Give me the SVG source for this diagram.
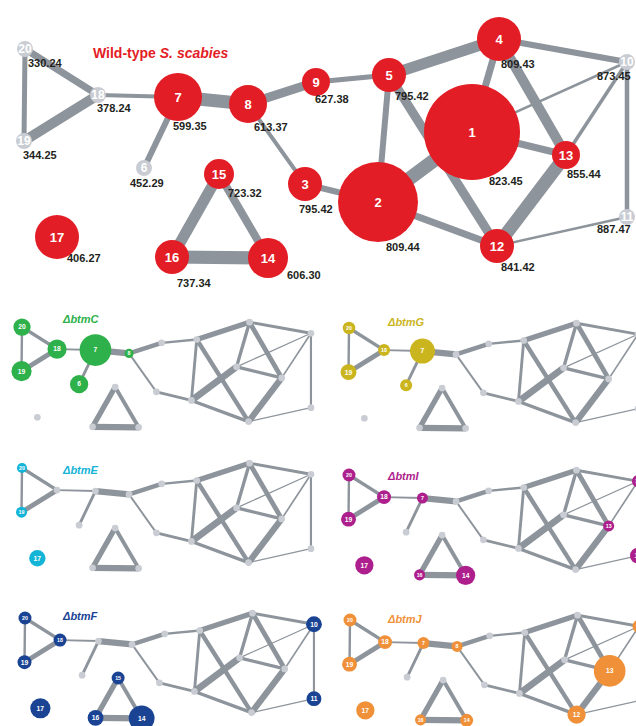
<svg xmlns="http://www.w3.org/2000/svg" xmlns:xlink="http://www.w3.org/1999/xlink" width="636" height="726" viewBox="0 0 636 726">
<style>
.e{stroke:#8d949b;fill:none}
.g{fill:#c9cdd3}
.r{fill:#e31d25}
.cC{fill:#2eb14a}.cG{fill:#cbb51e}.cE{fill:#14b4d7}.cI{fill:#ad1f8d}.cF{fill:#1a4394}.cJ{fill:#f0913a}
text{font-family:"Liberation Sans",Arial,sans-serif;font-weight:bold}
.l{fill:#fff;text-anchor:middle;font-size:13px}
.lg{fill:#fff;text-anchor:middle;font-size:12px}
.s{fill:#fff;text-anchor:middle;font-size:14px}
.ss{fill:#fff;text-anchor:middle;font-size:11px}
.v{fill:#231f20;font-size:11px}
.t{font-size:11px;font-style:italic}
</style>
<rect width="636" height="726" fill="#fff"/>
<g id="connectors">
<line class="e" x1="25" y1="49" x2="98" y2="95" stroke-width="7"/>
<line class="e" x1="25" y1="49" x2="24" y2="141" stroke-width="5"/>
<line class="e" x1="24" y1="141" x2="98" y2="95" stroke-width="10"/>
<line class="e" x1="98" y1="95" x2="178" y2="97" stroke-width="4"/>
<line class="e" x1="178" y1="97" x2="144" y2="168" stroke-width="6"/>
<line class="e" x1="178" y1="97" x2="248" y2="104" stroke-width="13"/>
<line class="e" x1="248" y1="104" x2="316" y2="82" stroke-width="9"/>
<line class="e" x1="248" y1="104" x2="305" y2="184" stroke-width="4"/>
<line class="e" x1="316" y1="82" x2="389" y2="75" stroke-width="5"/>
<line class="e" x1="305" y1="184" x2="378" y2="202" stroke-width="6"/>
<line class="e" x1="389" y1="75" x2="499" y2="39" stroke-width="11"/>
<line class="e" x1="389" y1="75" x2="378" y2="202" stroke-width="6"/>
<line class="e" x1="389" y1="75" x2="497" y2="246" stroke-width="9"/>
<line class="e" x1="499" y1="39" x2="627" y2="62" stroke-width="6"/>
<line class="e" x1="499" y1="39" x2="472" y2="132" stroke-width="7"/>
<line class="e" x1="499" y1="39" x2="566" y2="155" stroke-width="10"/>
<line class="e" x1="472" y1="132" x2="627" y2="62" stroke-width="2.5"/>
<line class="e" x1="472" y1="132" x2="566" y2="155" stroke-width="7"/>
<line class="e" x1="472" y1="132" x2="378" y2="202" stroke-width="14"/>
<line class="e" x1="566" y1="155" x2="627" y2="62" stroke-width="3.5"/>
<line class="e" x1="566" y1="155" x2="497" y2="246" stroke-width="13"/>
<line class="e" x1="378" y1="202" x2="497" y2="246" stroke-width="7"/>
<line class="e" x1="497" y1="246" x2="627" y2="217" stroke-width="2.5"/>
<line class="e" x1="627" y1="62" x2="627" y2="217" stroke-width="4.5"/>
<line class="e" x1="219" y1="174" x2="172" y2="257" stroke-width="11"/>
<line class="e" x1="219" y1="174" x2="268" y2="258" stroke-width="8"/>
<line class="e" x1="172" y1="257" x2="268" y2="258" stroke-width="13"/>
</g>
<g id="wildtype">
<text x="93" y="58" font-size="14" fill="#e31d25">Wild-type <tspan font-style="italic">S. scabies</tspan></text>
<g id="n1"><circle class="r" cx="472" cy="132" r="48"/><text class="l" x="472" y="132" dy="0.35em">1</text><text class="v" x="489" y="185">823.45</text></g>
<g id="n2"><circle class="r" cx="378" cy="202" r="40"/><text class="l" x="378" y="202" dy="0.35em">2</text><text class="v" x="386" y="251">809.44</text></g>
<g id="n3"><circle class="r" cx="305" cy="184" r="17"/><text class="l" x="305" y="184" dy="0.35em">3</text><text class="v" x="299" y="213">795.42</text></g>
<g id="n4"><circle class="r" cx="499" cy="39" r="22"/><text class="l" x="499" y="39" dy="0.35em">4</text><text class="v" x="501" y="68">809.43</text></g>
<g id="n5"><circle class="r" cx="389" cy="75" r="17"/><text class="l" x="389" y="75" dy="0.35em">5</text><text class="v" x="395" y="100">795.42</text></g>
<g id="n6"><circle class="g" cx="144" cy="168" r="8"/><text class="lg" x="144" y="168" dy="0.35em">6</text><text class="v" x="130" y="187">452.29</text></g>
<g id="n7"><circle class="r" cx="178" cy="97" r="24"/><text class="l" x="178" y="97" dy="0.35em">7</text><text class="v" x="173" y="130">599.35</text></g>
<g id="n8"><circle class="r" cx="248" cy="104" r="19"/><text class="l" x="248" y="104" dy="0.35em">8</text><text class="v" x="254" y="131">613.37</text></g>
<g id="n9"><circle class="r" cx="316" cy="82" r="14"/><text class="l" x="316" y="82" dy="0.35em">9</text><text class="v" x="315" y="103">627.38</text></g>
<g id="n10"><circle class="g" cx="627" cy="62" r="8"/><text class="lg" x="627" y="62" dy="0.35em">10</text><text class="v" x="597" y="80">873.45</text></g>
<g id="n11"><circle class="g" cx="627" cy="217" r="8"/><text class="lg" x="627" y="217" dy="0.35em">11</text><text class="v" x="597" y="233">887.47</text></g>
<g id="n12"><circle class="r" cx="497" cy="246" r="17"/><text class="l" x="497" y="246" dy="0.35em">12</text><text class="v" x="501" y="271">841.42</text></g>
<g id="n13"><circle class="r" cx="566" cy="155" r="14"/><text class="l" x="566" y="155" dy="0.35em">13</text><text class="v" x="567" y="178">855.44</text></g>
<g id="n14"><circle class="r" cx="268" cy="258" r="20"/><text class="l" x="268" y="258" dy="0.35em">14</text><text class="v" x="287" y="279">606.30</text></g>
<g id="n15"><circle class="r" cx="219" cy="174" r="15"/><text class="l" x="219" y="174" dy="0.35em">15</text><text class="v" x="228" y="197">723.32</text></g>
<g id="n16"><circle class="r" cx="172" cy="257" r="17"/><text class="l" x="172" y="257" dy="0.35em">16</text><text class="v" x="177" y="287">737.34</text></g>
<g id="n17"><circle class="r" cx="57" cy="237" r="22"/><text class="l" x="57" y="237" dy="0.35em">17</text><text class="v" x="67" y="262">406.27</text></g>
<g id="n18"><circle class="g" cx="98" cy="95" r="8"/><text class="lg" x="98" y="95" dy="0.35em">18</text><text class="v" x="97" y="112">378.24</text></g>
<g id="n19"><circle class="g" cx="24" cy="141" r="8"/><text class="lg" x="24" y="141" dy="0.35em">19</text><text class="v" x="23" y="159">344.25</text></g>
<g id="n20"><circle class="g" cx="25" cy="49" r="8"/><text class="lg" x="25" y="49" dy="0.35em">20</text><text class="v" x="28" y="67">330.24</text></g>
</g>

<!-- btmC -->
<text class="t" x="63" y="323" fill="#2eb14a">ΔbtmC</text>
<g id="panelC" transform="translate(10,303.5) scale(0.48)">
<use href="#connectors"/>
<g id="C1"><circle class="g" cx="472" cy="132" r="7"/></g>
<g id="C2"><circle class="g" cx="378" cy="202" r="7"/></g>
<g id="C3"><circle class="g" cx="305" cy="184" r="7"/></g>
<g id="C4"><circle class="g" cx="499" cy="39" r="7"/></g>
<g id="C5"><circle class="g" cx="389" cy="75" r="7"/></g>
<g id="C9"><circle class="g" cx="316" cy="82" r="7"/></g>
<g id="C10"><circle class="g" cx="627" cy="62" r="7"/></g>
<g id="C11"><circle class="g" cx="627" cy="217" r="7"/></g>
<g id="C12"><circle class="g" cx="497" cy="246" r="7"/></g>
<g id="C13"><circle class="g" cx="566" cy="155" r="7"/></g>
<g id="C14"><circle class="g" cx="268" cy="258" r="7"/></g>
<g id="C15"><circle class="g" cx="219" cy="174" r="7"/></g>
<g id="C16"><circle class="g" cx="172" cy="257" r="7"/></g>
<g id="C17"><circle class="g" cx="57" cy="237" r="7"/></g>
<g id="C6"><circle class="cC" cx="144" cy="168" r="19"/><text class="s" x="144" y="168" dy="0.35em">6</text></g>
<g id="C7"><circle class="cC" cx="178" cy="97" r="33"/><text class="s" x="178" y="97" dy="0.35em">7</text></g>
<g id="C8"><circle class="cC" cx="248" cy="104" r="9.5"/><text class="ss" x="248" y="104" dy="0.35em">8</text></g>
<g id="C18"><circle class="cC" cx="98" cy="95" r="20"/><text class="s" x="98" y="95" dy="0.35em">18</text></g>
<g id="C19"><circle class="cC" cx="24" cy="141" r="21"/><text class="s" x="24" y="141" dy="0.35em">19</text></g>
<g id="C20"><circle class="cC" cx="25" cy="49" r="18"/><text class="s" x="25" y="49" dy="0.35em">20</text></g>
</g>

<!-- btmG -->
<text class="t" x="388" y="326" fill="#cbb51e">ΔbtmG</text>
<g id="panelG" transform="translate(337,304.5) scale(0.48)">
<use href="#connectors"/>
<g id="G1"><circle class="g" cx="472" cy="132" r="7"/></g>
<g id="G2"><circle class="g" cx="378" cy="202" r="7"/></g>
<g id="G3"><circle class="g" cx="305" cy="184" r="7"/></g>
<g id="G4"><circle class="g" cx="499" cy="39" r="7"/></g>
<g id="G5"><circle class="g" cx="389" cy="75" r="7"/></g>
<g id="G8"><circle class="g" cx="248" cy="104" r="7"/></g>
<g id="G9"><circle class="g" cx="316" cy="82" r="7"/></g>
<g id="G10"><circle class="g" cx="627" cy="62" r="7"/></g>
<g id="G11"><circle class="g" cx="627" cy="217" r="7"/></g>
<g id="G12"><circle class="g" cx="497" cy="246" r="7"/></g>
<g id="G13"><circle class="g" cx="566" cy="155" r="7"/></g>
<g id="G14"><circle class="g" cx="268" cy="258" r="7"/></g>
<g id="G15"><circle class="g" cx="219" cy="174" r="7"/></g>
<g id="G16"><circle class="g" cx="172" cy="257" r="7"/></g>
<g id="G17"><circle class="g" cx="57" cy="237" r="7"/></g>
<g id="G6"><circle class="cG" cx="144" cy="168" r="12.5"/><text class="ss" x="144" y="168" dy="0.35em">6</text></g>
<g id="G7"><circle class="cG" cx="178" cy="97" r="26"/><text class="s" x="178" y="97" dy="0.35em">7</text></g>
<g id="G18"><circle class="cG" cx="98" cy="95" r="12.5"/><text class="ss" x="98" y="95" dy="0.35em">18</text></g>
<g id="G19"><circle class="cG" cx="24" cy="141" r="16.5"/><text class="s" x="24" y="141" dy="0.35em">19</text></g>
<g id="G20"><circle class="cG" cx="25" cy="49" r="13"/><text class="ss" x="25" y="49" dy="0.35em">20</text></g>
</g>

<!-- btmE -->
<text class="t" x="63" y="474" fill="#14b4d7">ΔbtmE</text>
<g id="panelE" transform="translate(10,444.5) scale(0.48)">
<use href="#connectors"/>
<g id="E1"><circle class="g" cx="472" cy="132" r="7"/></g>
<g id="E2"><circle class="g" cx="378" cy="202" r="7"/></g>
<g id="E3"><circle class="g" cx="305" cy="184" r="7"/></g>
<g id="E4"><circle class="g" cx="499" cy="39" r="7"/></g>
<g id="E5"><circle class="g" cx="389" cy="75" r="7"/></g>
<g id="E6"><circle class="g" cx="144" cy="168" r="7"/></g>
<g id="E7"><circle class="g" cx="178" cy="97" r="7"/></g>
<g id="E8"><circle class="g" cx="248" cy="104" r="7"/></g>
<g id="E9"><circle class="g" cx="316" cy="82" r="7"/></g>
<g id="E10"><circle class="g" cx="627" cy="62" r="7"/></g>
<g id="E11"><circle class="g" cx="627" cy="217" r="7"/></g>
<g id="E12"><circle class="g" cx="497" cy="246" r="7"/></g>
<g id="E13"><circle class="g" cx="566" cy="155" r="7"/></g>
<g id="E14"><circle class="g" cx="268" cy="258" r="7"/></g>
<g id="E15"><circle class="g" cx="219" cy="174" r="7"/></g>
<g id="E16"><circle class="g" cx="172" cy="257" r="7"/></g>
<g id="E18"><circle class="g" cx="98" cy="95" r="7"/></g>
<g id="E17"><circle class="cE" cx="57" cy="237" r="17"/><text class="s" x="57" y="237" dy="0.35em">17</text></g>
<g id="E19"><circle class="cE" cx="24" cy="141" r="11.5"/><text class="ss" x="24" y="141" dy="0.35em">19</text></g>
<g id="E20"><circle class="cE" cx="25" cy="49" r="10.5"/><text class="ss" x="25" y="49" dy="0.35em">20</text></g>
</g>

<!-- btmI -->
<text class="t" x="388" y="480" fill="#ad1f8d">ΔbtmI</text>
<g id="panelI" transform="translate(337,451.5) scale(0.48)">
<use href="#connectors"/>
<g id="I1"><circle class="g" cx="472" cy="132" r="7"/></g>
<g id="I2"><circle class="g" cx="378" cy="202" r="7"/></g>
<g id="I3"><circle class="g" cx="305" cy="184" r="7"/></g>
<g id="I4"><circle class="g" cx="499" cy="39" r="7"/></g>
<g id="I5"><circle class="g" cx="389" cy="75" r="7"/></g>
<g id="I6"><circle class="g" cx="144" cy="168" r="7"/></g>
<g id="I8"><circle class="g" cx="248" cy="104" r="7"/></g>
<g id="I9"><circle class="g" cx="316" cy="82" r="7"/></g>
<g id="I12"><circle class="g" cx="497" cy="246" r="7"/></g>
<g id="I15"><circle class="g" cx="219" cy="174" r="7"/></g>
<g id="I7"><circle class="cI" cx="178" cy="97" r="11.5"/><text class="ss" x="178" y="97" dy="0.35em">7</text></g>
<g id="I10"><circle class="cI" cx="627" cy="62" r="12.5"/><text class="ss" x="627" y="62" dy="0.35em">10</text></g>
<g id="I11"><circle class="cI" cx="627" cy="217" r="16.5"/><text class="s" x="627" y="217" dy="0.35em">11</text></g>
<g id="I13"><circle class="cI" cx="566" cy="155" r="11.5"/><text class="ss" x="566" y="155" dy="0.35em">13</text></g>
<g id="I14"><circle class="cI" cx="268" cy="258" r="20"/><text class="s" x="268" y="258" dy="0.35em">14</text></g>
<g id="I16"><circle class="cI" cx="172" cy="257" r="11.5"/><text class="ss" x="172" y="257" dy="0.35em">16</text></g>
<g id="I17"><circle class="cI" cx="57" cy="237" r="19"/><text class="s" x="57" y="237" dy="0.35em">17</text></g>
<g id="I18"><circle class="cI" cx="98" cy="95" r="14.5"/><text class="s" x="98" y="95" dy="0.35em">18</text></g>
<g id="I19"><circle class="cI" cx="24" cy="141" r="15.5"/><text class="s" x="24" y="141" dy="0.35em">19</text></g>
<g id="I20"><circle class="cI" cx="25" cy="49" r="13.5"/><text class="ss" x="25" y="49" dy="0.35em">20</text></g>
</g>

<!-- btmF -->
<text class="t" x="63" y="620" fill="#1a4394">ΔbtmF</text>
<g id="panelF" transform="translate(13,594.5) scale(0.48)">
<use href="#connectors"/>
<g id="F1"><circle class="g" cx="472" cy="132" r="7"/></g>
<g id="F2"><circle class="g" cx="378" cy="202" r="7"/></g>
<g id="F3"><circle class="g" cx="305" cy="184" r="7"/></g>
<g id="F4"><circle class="g" cx="499" cy="39" r="7"/></g>
<g id="F5"><circle class="g" cx="389" cy="75" r="7"/></g>
<g id="F6"><circle class="g" cx="144" cy="168" r="7"/></g>
<g id="F7"><circle class="g" cx="178" cy="97" r="7"/></g>
<g id="F8"><circle class="g" cx="248" cy="104" r="7"/></g>
<g id="F9"><circle class="g" cx="316" cy="82" r="7"/></g>
<g id="F12"><circle class="g" cx="497" cy="246" r="7"/></g>
<g id="F13"><circle class="g" cx="566" cy="155" r="7"/></g>
<g id="F10"><circle class="cF" cx="627" cy="62" r="16.5"/><text class="s" x="627" y="62" dy="0.35em">10</text></g>
<g id="F11"><circle class="cF" cx="627" cy="217" r="15.5"/><text class="s" x="627" y="217" dy="0.35em">11</text></g>
<g id="F14"><circle class="cF" cx="268" cy="258" r="27"/><text class="s" x="268" y="258" dy="0.35em">14</text></g>
<g id="F15"><circle class="cF" cx="219" cy="174" r="13.5"/><text class="ss" x="219" y="174" dy="0.35em">15</text></g>
<g id="F16"><circle class="cF" cx="172" cy="257" r="16.5"/><text class="s" x="172" y="257" dy="0.35em">16</text></g>
<g id="F17"><circle class="cF" cx="57" cy="237" r="21"/><text class="s" x="57" y="237" dy="0.35em">17</text></g>
<g id="F18"><circle class="cF" cx="98" cy="95" r="13.5"/><text class="ss" x="98" y="95" dy="0.35em">18</text></g>
<g id="F19"><circle class="cF" cx="24" cy="141" r="14.5"/><text class="s" x="24" y="141" dy="0.35em">19</text></g>
<g id="F20"><circle class="cF" cx="25" cy="49" r="13.5"/><text class="ss" x="25" y="49" dy="0.35em">20</text></g>
</g>

<!-- btmJ -->
<text class="t" x="388" y="623" fill="#f0913a">ΔbtmJ</text>
<g id="panelJ" transform="translate(338,596.5) scale(0.48)">
<use href="#connectors"/>
<g id="J1"><circle class="g" cx="472" cy="132" r="7"/></g>
<g id="J2"><circle class="g" cx="378" cy="202" r="7"/></g>
<g id="J3"><circle class="g" cx="305" cy="184" r="7"/></g>
<g id="J4"><circle class="g" cx="499" cy="39" r="7"/></g>
<g id="J5"><circle class="g" cx="389" cy="75" r="7"/></g>
<g id="J6"><circle class="g" cx="144" cy="168" r="7"/></g>
<g id="J9"><circle class="g" cx="316" cy="82" r="7"/></g>
<g id="J11"><circle class="g" cx="627" cy="217" r="7"/></g>
<g id="J15"><circle class="g" cx="219" cy="174" r="7"/></g>
<g id="J7"><circle class="cJ" cx="178" cy="97" r="12.5"/><text class="ss" x="178" y="97" dy="0.35em">7</text></g>
<g id="J8"><circle class="cJ" cx="248" cy="104" r="11.5"/><text class="ss" x="248" y="104" dy="0.35em">8</text></g>
<g id="J10"><circle class="cJ" cx="627" cy="62" r="13.5"/><text class="ss" x="627" y="62" dy="0.35em">10</text></g>
<g id="J12"><circle class="cJ" cx="497" cy="246" r="19"/><text class="s" x="497" y="246" dy="0.35em">12</text></g>
<g id="J13"><circle class="cJ" cx="566" cy="155" r="33"/><text class="s" x="566" y="155" dy="0.35em">13</text></g>
<g id="J14"><circle class="cJ" cx="268" cy="258" r="13.5"/><text class="ss" x="268" y="258" dy="0.35em">14</text></g>
<g id="J16"><circle class="cJ" cx="172" cy="257" r="11.5"/><text class="ss" x="172" y="257" dy="0.35em">16</text></g>
<g id="J17"><circle class="cJ" cx="57" cy="237" r="19"/><text class="s" x="57" y="237" dy="0.35em">17</text></g>
<g id="J18"><circle class="cJ" cx="98" cy="95" r="14.5"/><text class="s" x="98" y="95" dy="0.35em">18</text></g>
<g id="J19"><circle class="cJ" cx="24" cy="141" r="15.5"/><text class="s" x="24" y="141" dy="0.35em">19</text></g>
<g id="J20"><circle class="cJ" cx="25" cy="49" r="13.5"/><text class="ss" x="25" y="49" dy="0.35em">20</text></g>
</g>
</svg>
